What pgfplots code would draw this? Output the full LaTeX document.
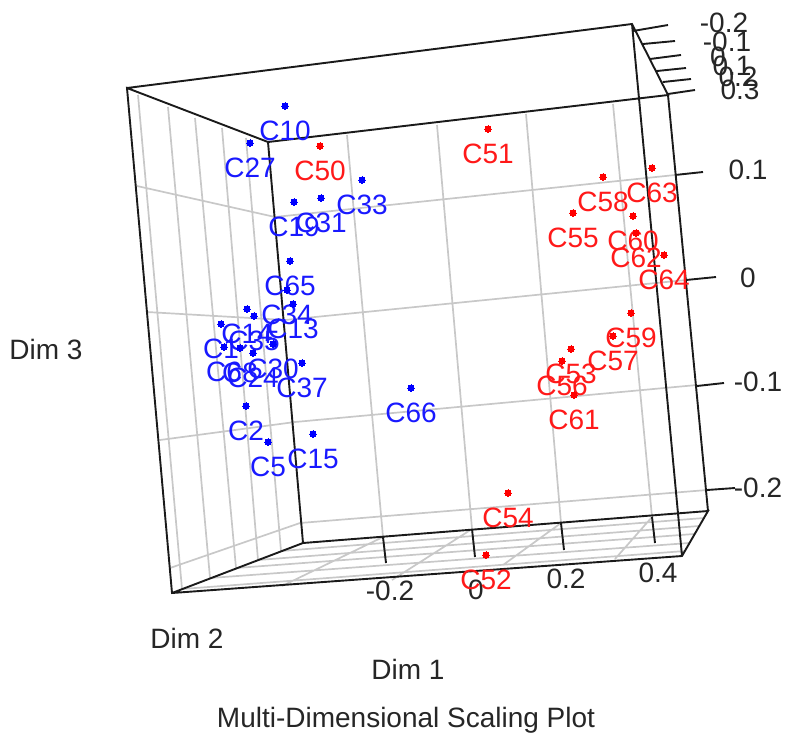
\documentclass[border=0pt]{standalone}
\usepackage{fontspec}
\setmainfont{Liberation Sans}
\usepackage{pgfplots}
\usepackage{pgfplotstable}
\pgfplotsset{compat=1.18}
\definecolor{gridgray}{HTML}{C8C8C8}
\definecolor{boxblack}{HTML}{1A1A1A}
\pgfplotstableread{
x y lab
285 106 C10
250 143 C27
362 180 C33
321 198 C31
294 202 C19
290 261 C65
287 290 C34
293 304 C13
247 309 C14
254 316 C35
221 324 C1
224 347 C6
240 348 C8
253 353 C24
273 344 C30
302 363 C37
246 406 C2
268 442 C5
313 434 C15
411 388 C66
}\bluepts
\pgfplotstableread{
x y lab
320 146 C50
488 129 C51
603 177 C58
652 168 C63
573 213 C55
633 216 C60
636 233 C62
664 255 C64
631 313 C59
613 336 C57
571 349 C53
562 361 C56
574 395 C61
508 493 C54
486 555 C52
}\redpts
\newcommand{\lab}[3]{\node[text=#3!85!white,font=\fontsize{28}{32}\selectfont,inner sep=0pt,anchor=center] at (axis cs:#1) {#2};}
\begin{document}
\begin{tikzpicture}
\path[use as bounding box] (0,0) rectangle (809pt,734pt);
\begin{axis}[
  scale only axis, width=809pt, height=734pt,
  xmin=0, xmax=809, ymin=0, ymax=734, y dir=reverse,
  axis line style={draw=none}, xtick=\empty, ytick=\empty,
  clip=false, unbounded coords=jump,
]
% grid: left wall
\addplot[gridgray, line width=1.7pt, no marks] coordinates {
(138,95) (182,589) (nan,nan)
(168,107) (210,578) (nan,nan)
(195,118) (236,568) (nan,nan)
(222,128) (258,560) (nan,nan)
(246,138) (281,551) (nan,nan)
(137,186) (275,217) (nan,nan)
(147,312) (285,320) (nan,nan)
(160,440) (295,422) (nan,nan)
(170,568) (300,523) (nan,nan)
};
% grid: back wall
\addplot[gridgray, line width=1.7pt, no marks] coordinates {
(347,135) (383,537) (nan,nan)
(437,125) (472,529) (nan,nan)
(526,114) (561,523) (nan,nan)
(613,104) (652,517) (nan,nan)
(275,217) (675,175) (nan,nan)
(285,320) (686,280) (nan,nan)
(295,422) (697,385) (nan,nan)
(300,523) (707,490) (nan,nan)
};
% grid: floor
\addplot[gridgray, line width=1.7pt, no marks] coordinates {
(383,537) (282,586) (nan,nan)
(472,529) (392,580) (nan,nan)
(561,523) (503,565) (nan,nan)
(652,517) (615,559) (nan,nan)
(182,589) (685,551) (nan,nan)
(210,578) (689,543) (nan,nan)
(236,568) (694,534) (nan,nan)
(258,560) (699,526) (nan,nan)
(281,551) (704,518) (nan,nan)
};
% box and tick marks
\addplot[boxblack, line width=1.9pt, no marks] coordinates {
(127,88) (632,24) (668,95) (268,142) (127,88) (172,593) (682,556) (708,511) (303,543) (172,593) (nan,nan)
(268,142) (303,543) (nan,nan)
(632,24) (682,556) (nan,nan)
(668,95) (708,511) (nan,nan)
(383,537) (386,563) (nan,nan)
(472,529) (475,557) (nan,nan)
(561,523) (564,550) (nan,nan)
(652,517) (655,543) (nan,nan)
(633,31) (668,25) (nan,nan)
(643,44) (675,41) (nan,nan)
(650,59) (681,55) (nan,nan)
(657,71) (686,68) (nan,nan)
(663,82) (691,79) (nan,nan)
(668,94) (695,90) (nan,nan)
(675,175) (703,172) (nan,nan)
(686,280) (716,277) (nan,nan)
(697,386) (724,383) (nan,nan)
(707,490) (735,488) (nan,nan)
};
% points
\addplot[blue, only marks, mark=*, mark size=3.2pt, mark options={draw=blue, fill=blue, line width=0pt},
  point meta=explicit symbolic, nodes near coords,
  every node near coord/.append style={text=blue!90!white, font=\fontsize{28}{32}\selectfont, inner sep=0pt, anchor=center, yshift=-25pt},
] table[x=x, y=y, meta=lab] {\bluepts};
\addplot[red, only marks, mark=*, mark size=3.2pt, mark options={draw=red, fill=red, line width=0pt},
  point meta=explicit symbolic, nodes near coords,
  every node near coord/.append style={text=red!90!white, font=\fontsize{28}{32}\selectfont, inner sep=0pt, anchor=center, yshift=-25pt},
] table[x=x, y=y, meta=lab] {\redpts};
% tick labels
\lab{390,591}{-0.2}{black}
\lab{476,590}{0}{black}
\lab{566,579}{0.2}{black}
\lab{658,573}{0.4}{black}
\lab{724,23}{-0.2}{black}
\lab{727,42}{-0.1}{black}
\lab{718,57}{0}{black}
\lab{732,66}{0.1}{black}
\lab{738,77}{0.2}{black}
\lab{740,90}{0.3}{black}
\lab{748,170}{0.1}{black}
\lab{748,278}{0}{black}
\lab{758,382}{-0.1}{black}
\lab{758,488}{-0.2}{black}
\lab{408,669}{Dim 1}{black}
\lab{187,638}{Dim 2}{black}
\lab{46,349}{Dim 3}{black}
\lab{406,720}{Multi-Dimensional Scaling Plot}{black}
\end{axis}
\end{tikzpicture}
\end{document}
